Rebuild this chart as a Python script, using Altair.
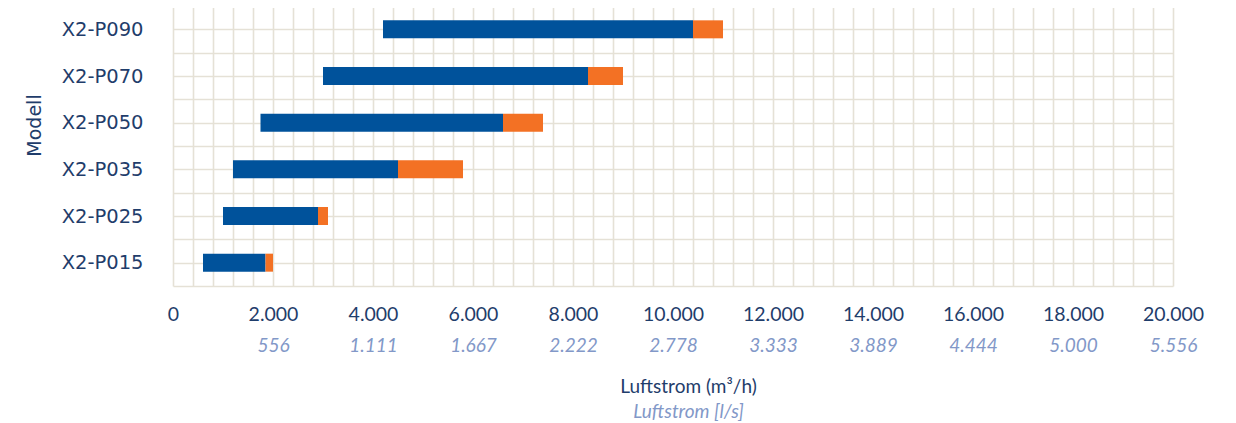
import altair as alt
import pandas as pd

models = ["X2-P090", "X2-P070", "X2-P050", "X2-P035", "X2-P025", "X2-P015"]
range_start = [4200, 3000, 1750, 1200, 1000, 600]
range_mid = [10400, 8300, 6600, 4500, 2900, 1850]
range_end = [11000, 9000, 7400, 5800, 3100, 2000]

df = pd.DataFrame({
    "model": models,
    "pos": [i + 0.5 for i in range(len(models))],
    "start": range_start,
    "mid": range_mid,
    "end": range_end,
})

BLUE = "#00529B"
ORANGE = "#F37124"
GRID = "#E5E1D6"
NAVY = "#1F3D6B"
LIGHT = "#8298C8"

model_js = "[" + ",".join("'" + m + "'" for m in models) + "]"

y_enc = alt.Y(
    "pos:Q",
    scale=alt.Scale(domain=[0, 6], reverse=True, nice=False, zero=False, padding=0),
    axis=alt.Axis(
        values=[i / 2 for i in range(13)],
        grid=True, gridColor=GRID, gridWidth=1.6,
        domain=False, ticks=False,
        labelExpr=f"(datum.value % 1 == 0.5) ? {model_js}[floor(datum.value)] : ''",
        labelFont="DejaVu Sans", labelFontSize=19.5, labelColor=NAVY,
        labelPadding=30, labelOverlap=False,
        title="Modell", titleFont="DejaVu Sans", titleFontSize=19,
        titleColor=NAVY, titleFontWeight="normal",
        titleX=-139, titleY=119, titleBaseline="middle", titleAngle=270,
    ),
)

x_scale = alt.Scale(domain=[0, 20000], nice=False, zero=True, padding=0)

blue = alt.Chart(df).mark_bar(color=BLUE, size=18).encode(
    x=alt.X(
        "start:Q", scale=x_scale,
        axis=alt.Axis(
            orient="bottom",
            values=list(range(0, 20001, 400)),
            grid=True, gridColor=GRID, gridWidth=1.6,
            domain=False, ticks=False,
            labelExpr="(datum.value % 2000 == 0) ? replace(format(datum.value, ','), ',', '.') : ''",
            labelFont="Lato", labelFontSize=19.5, labelColor=NAVY,
            labelPadding=19, labelOverlap=False, labelFlush=False,
            title="Luftstrom (m³/h)", titleFont="Lato", titleFontSize=19,
            titleColor=NAVY, titleFontWeight="normal",
            titleX=515, titleY=100, titleBaseline="middle",
        ),
    ),
    x2="mid:Q",
    y=y_enc,
)

orange = alt.Chart(df).mark_bar(color=ORANGE, size=18).encode(
    x=alt.X(
        "mid:Q", scale=x_scale,
        axis=alt.Axis(
            orient="bottom",
            values=list(range(2000, 20001, 2000)),
            grid=False, domain=False, ticks=False,
            labelExpr="replace(format(datum.value / 3.6, ',.0f'), ',', '.')",
            labelFont="Lato", labelFontSize=19, labelFontStyle="italic",
            labelColor=LIGHT, labelPadding=50, labelOverlap=False, labelFlush=False,
            title="Luftstrom [l/s]", titleFont="Lato", titleFontSize=19,
            titleFontStyle="italic", titleColor=LIGHT, titleFontWeight="normal",
            titleX=515, titleY=125, titleBaseline="middle",
        ),
    ),
    x2="end:Q",
    y=y_enc,
)

chart = (
    alt.layer(blue, orange)
    .resolve_axis(x="independent")
    .properties(
        width=1000, height=280,
        autosize=alt.AutoSizeParams(type="none"),
        padding={"left": 165, "top": -2, "right": 55, "bottom": 135},
        background="white",
    )
    .configure_view(stroke=None)
)

chart.save("out.html", embed_options={"renderer": "svg", "actions": False})
